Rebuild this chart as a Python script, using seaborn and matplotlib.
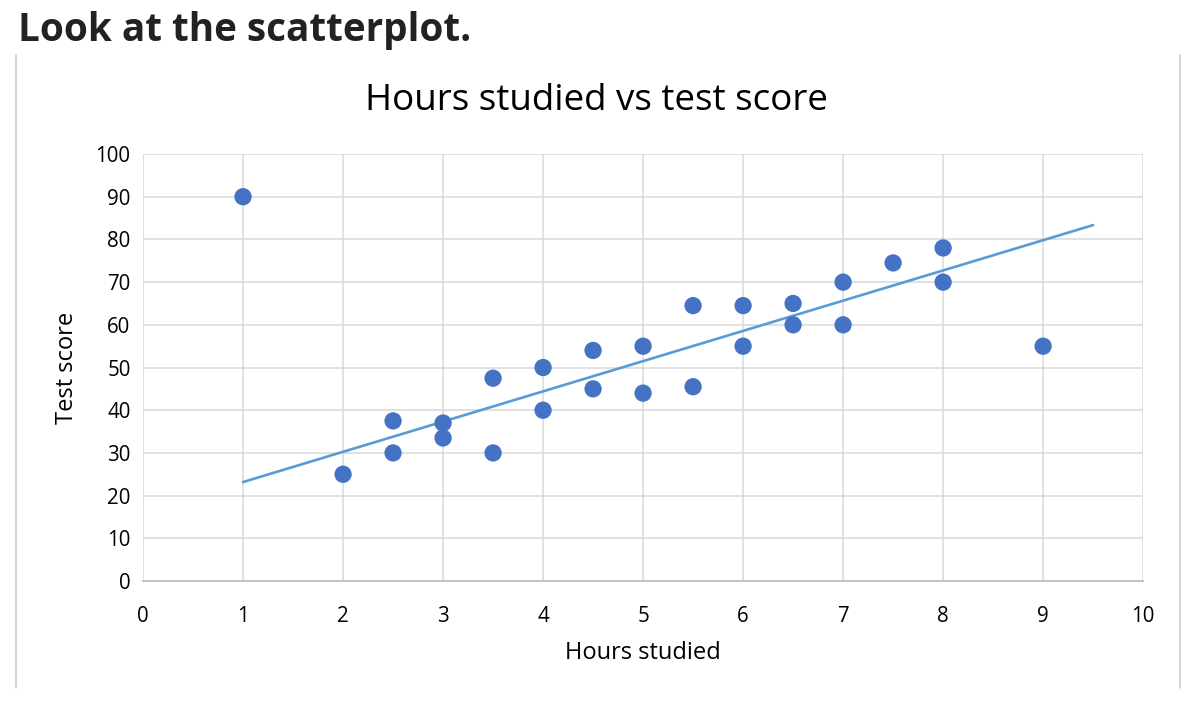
import numpy as np
import pandas as pd
import seaborn as sns
import matplotlib.pyplot as plt
from matplotlib.lines import Line2D

# data
hours = [1, 2, 2.5, 2.5, 3, 3, 3.5, 3.5, 4, 4, 4.5, 4.5, 5, 5,
         5.5, 5.5, 6, 6, 6.5, 6.5, 7, 7, 7.5, 8, 8, 9]
scores = [90, 25, 37.5, 30, 37, 33.5, 47.5, 30, 50, 40, 54, 45, 55, 44,
          64.5, 45.5, 64.5, 55, 65, 60, 70, 60, 74.5, 78, 70, 55]
# linear trendline as shown in the chart
trend_slope = 7.08
trend_intercept = 16.1
trend_range = [1, 9.5]

x_ticks = list(range(0, 11))
y_ticks = list(range(0, 101, 10))

df = pd.DataFrame({'hours': hours, 'score': scores})

sns.set_theme(style='white')
plt.rcParams['font.family'] = ['Open Sans', 'DejaVu Sans']

fig = plt.figure(figsize=(11.92, 7.04), dpi=100)
ax = fig.add_axes([0.120, 0.1747, 0.839, 0.6065])

# trendline
tx = np.array(trend_range)
ax.plot(tx, trend_slope * tx + trend_intercept, color='#5B9BD5', lw=1.9, zorder=2)

sns.scatterplot(data=df, x='hours', y='score', ax=ax, color='#4472C4',
                s=155, edgecolor='none', zorder=3)

ax.set_xlim(0, 10)
ax.set_ylim(0, 100)
ax.set_xticks(x_ticks)
ax.set_yticks(y_ticks)
ax.grid(True, color='#D9D9D9', lw=1.1)
ax.set_axisbelow(True)
for side in ['top', 'right', 'left']:
    ax.spines[side].set_visible(False)
ax.spines['bottom'].set_color('#BFBFBF')
ax.spines['bottom'].set_linewidth(1.3)
ax.tick_params(axis='both', length=0, labelsize=14.8, colors='black')
ax.tick_params(axis='x', pad=18)
ax.tick_params(axis='y', pad=9)
ax.set_xlabel('Hours studied', fontsize=17, labelpad=10, color='black')
ax.set_ylabel('Test score', fontsize=17, labelpad=12, color='black')

fig.text(0.5, 0.857, 'Hours studied vs test score', ha='center', va='center',
         fontsize=26.5, color='black')
fig.text(0.015, 0.957, 'Look at the scatterplot.', ha='left', va='center',
         fontsize=27.8, fontweight='bold', color='#222222')

# panel border (left and right only)
for xf in [16 / 1192, 1180 / 1192]:
    fig.add_artist(Line2D([xf, xf], [1 - 688 / 704, 1 - 55 / 704],
                          transform=fig.transFigure, color='#D0D0D0', lw=1.2))

fig.savefig('out.png', dpi=100)
